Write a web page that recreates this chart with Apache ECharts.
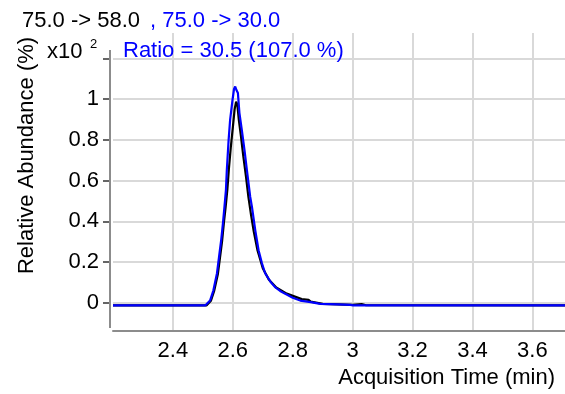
<!DOCTYPE html>
<html>
<head>
<meta charset="utf-8">
<script src="https://cdn.jsdelivr.net/npm/echarts@6/dist/echarts.min.js"></script>
<style>
html,body{margin:0;padding:0;background:#fff;}
#chart{width:565px;height:394px;}
</style>
</head>
<body>
<div id="chart"></div>
<script>
// ---- data ----
var xTicks = [2.4, 2.6, 2.8, 3.0, 3.2, 3.4, 3.6];
var yLabelTicks = [0, 0.2, 0.4, 0.6, 0.8, 1];
var yTickMarks = [0, 0.2, 0.4, 0.6, 0.8, 1, 1.2];

// 75.0 -> 58.0 (black)
var blackTime = [2.2, 2.512, 2.527, 2.538, 2.550, 2.557, 2.564, 2.570, 2.576, 2.582, 2.587, 2.593, 2.600, 2.606, 2.611, 2.615, 2.620, 2.627, 2.635, 2.644, 2.652, 2.660, 2.670, 2.682, 2.700, 2.720, 2.745, 2.780, 2.830, 2.853, 2.860, 2.900, 3.000, 3.030, 3.036, 3.045, 3.71];
var blackVal  = [-0.013, -0.013, 0.01, 0.06, 0.14, 0.22, 0.30, 0.39, 0.47, 0.56, 0.66, 0.76, 0.86, 0.95, 0.988, 0.975, 0.90, 0.82, 0.72, 0.62, 0.52, 0.44, 0.35, 0.26, 0.17, 0.115, 0.075, 0.045, 0.018, 0.014, 0.006, -0.005, -0.01, -0.006, 0.0, -0.012, -0.013];

// 75.0 -> 30.0 (blue)
var blueTime = [2.2, 2.508, 2.524, 2.535, 2.547, 2.554, 2.561, 2.567, 2.572, 2.577, 2.580, 2.586, 2.591, 2.599, 2.604, 2.608, 2.612, 2.617, 2.622, 2.630, 2.639, 2.647, 2.658, 2.664, 2.675, 2.686, 2.697, 2.708, 2.725, 2.741, 2.758, 2.775, 2.800, 2.825, 2.860, 2.892, 2.950, 2.992, 2.998, 3.002, 3.71];
var blueVal  = [-0.013, -0.013, 0.011, 0.06, 0.144, 0.225, 0.306, 0.39, 0.47, 0.553, 0.652, 0.80, 0.898, 0.996, 1.05, 1.062, 1.045, 1.03, 0.933, 0.849, 0.75, 0.652, 0.521, 0.47, 0.356, 0.258, 0.195, 0.145, 0.105, 0.077, 0.058, 0.044, 0.025, 0.011, 0.003, -0.005, -0.008, -0.01, -0.004, -0.013, -0.013];

var titleBlack = '75.0 -> 58.0';
var titleBlue = ', 75.0 -> 30.0';
var ratioText = 'Ratio = 30.5 (107.0 %)';
var yName = 'Relative Abundance (%)';
var xName = 'Acquisition Time (min)';

function zip(a, b) { return a.map(function (v, i) { return [v, b[i]]; }); }

var FONT = '"Liberation Sans", Arial, sans-serif';
var chart = echarts.init(document.getElementById('chart'), null, {renderer: 'canvas'});
chart.setOption({
  animation: false,
  backgroundColor: '#fff',
  grid: {left: 113, right: 0, top: 33, bottom: 63.3, containLabel: false},
  xAxis: {
    type: 'value', min: 2.2, max: 3.709,
    axisLine: {show: true, onZero: false, lineStyle: {color: '#8c8c8c', width: 2}},
    axisTick: {show: false, customValues: xTicks},
    axisLabel: {customValues: xTicks, fontSize: 22, color: '#000', fontFamily: FONT, margin: 9},
    splitLine: {show: true, lineStyle: {color: '#d9d9d9', width: 2}}
  },
  yAxis: {
    type: 'value', min: -0.137, max: 1.325, offset: 3,
    axisLine: {show: false, onZero: false},
    axisTick: {show: true, customValues: yTickMarks, length: 7, lineStyle: {color: '#333', width: 1.5}},
    axisLabel: {customValues: yLabelTicks, fontSize: 22, color: '#000', fontFamily: FONT, margin: 11},
    splitLine: {show: true, lineStyle: {color: '#d9d9d9', width: 2}}
  },
  series: [
    {type: 'line', name: titleBlack, data: zip(blackTime, blackVal), showSymbol: false, symbol: 'none',
     lineStyle: {color: '#000', width: 2.2}, itemStyle: {color: '#000'}, z: 3},
    {type: 'line', name: titleBlue, data: zip(blueTime, blueVal), showSymbol: false, symbol: 'none',
     lineStyle: {color: '#0000ff', width: 2.2}, itemStyle: {color: '#0000ff'}, z: 4}
  ],
  graphic: [
    {type: 'line', z: 100, shape: {x1: 110, y1: 50, x2: 110, y2: 328}, style: {stroke: '#8c8c8c', lineWidth: 2}},
    {type: 'text', z: 100, x: 22, y: 20.5, style: {text: titleBlack, fill: '#000', font: '22px ' + FONT, textVerticalAlign: 'middle'}},
    {type: 'text', z: 100, x: 150, y: 20.5, style: {text: titleBlue, fill: '#0000ff', font: '22px ' + FONT, textVerticalAlign: 'middle'}},
    {type: 'text', z: 100, x: 123, y: 51, style: {text: ratioText, fill: '#0000ff', font: '22px ' + FONT, textVerticalAlign: 'middle'}},
    {type: 'text', z: 100, x: 47, y: 51.5, style: {text: 'x10', fill: '#000', font: '22px ' + FONT, textVerticalAlign: 'middle'}},
    {type: 'text', z: 100, x: 90, y: 44.5, style: {text: '2', fill: '#000', font: '13px ' + FONT, textVerticalAlign: 'middle'}},
    {type: 'text', z: 100, x: 27, y: 155.5, rotation: Math.PI / 2,
     style: {text: yName, fill: '#000', font: '22px ' + FONT, textAlign: 'center', textVerticalAlign: 'middle'}},
    {type: 'text', z: 100, x: 555, y: 378, style: {text: xName, fill: '#000', font: '22px ' + FONT, textAlign: 'right', textVerticalAlign: 'middle'}}
  ]
});
</script>
</body>
</html>
